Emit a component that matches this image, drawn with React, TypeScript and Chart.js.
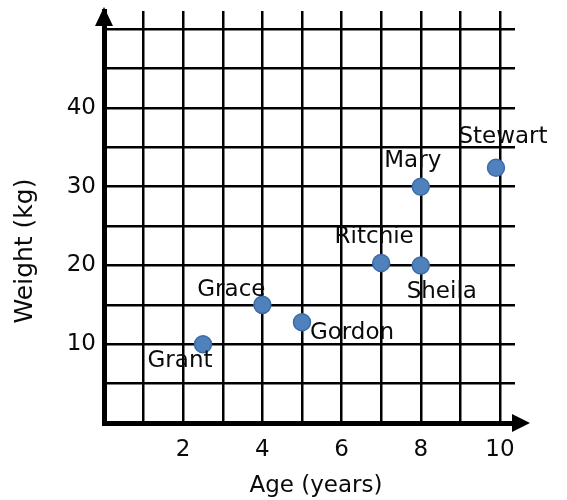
import React, { useEffect, useRef } from 'react';
import { Chart, registerables } from 'chart.js';

Chart.register(...registerables);

const NAMES = ['Grant', 'Grace', 'Gordon', 'Ritchie', 'Sheila', 'Mary', 'Stewart'];
const AGES = [2.5, 4, 5, 7, 8, 8, 9.9];
const WEIGHTS = [10, 15, 12.8, 20.3, 20, 30, 32.4];
const X_TICK_LABELS = [2, 4, 6, 8, 10];
const Y_TICK_LABELS = [10, 20, 30, 40];
const X_TITLE = 'Age (years)';
const Y_TITLE = 'Weight (kg)';

// label placement relative to each point (pixels)
const LABEL_OFFSETS: [number, number][] = [
  [-23, 17],
  [-31, -15],
  [50, 11],
  [-7, -26],
  [21, 27],
  [-8, -26],
  [7, -31],
];

const FONT = '"DejaVu Sans", sans-serif';

const near = (v: number, step: number) => Math.abs(v / step - Math.round(v / step)) < 1e-6;

const labelPlugin = {
  id: 'pointNames',
  afterDatasetsDraw(chart: any) {
    const { ctx } = chart;
    const meta = chart.getDatasetMeta(0);
    ctx.save();
    ctx.font = `23px ${FONT}`;
    ctx.fillStyle = '#0a0a0a';
    ctx.textAlign = 'center';
    ctx.textBaseline = 'middle';
    meta.data.forEach((el: any, i: number) => {
      const [dx, dy] = LABEL_OFFSETS[i];
      ctx.fillText(NAMES[i], el.x + dx, el.y + dy);
    });
    ctx.restore();
  },
};

const decorPlugin = {
  id: 'decor',
  afterDraw(chart: any) {
    const { ctx, chartArea } = chart;
    const { left, right, top, bottom } = chartArea;
    ctx.save();
    ctx.fillStyle = '#000';
    ctx.strokeStyle = '#000';
    // y arrow
    ctx.beginPath();
    ctx.moveTo(left, top - 4);
    ctx.lineTo(left - 9, top + 15);
    ctx.lineTo(left + 9, top + 15);
    ctx.closePath();
    ctx.fill();
    // x axis extension + arrow
    ctx.lineWidth = 5;
    ctx.beginPath();
    ctx.moveTo(right - 2, bottom);
    ctx.lineTo(right + 2, bottom);
    ctx.stroke();
    ctx.beginPath();
    ctx.moveTo(right + 15, bottom);
    ctx.lineTo(right - 3, bottom - 9);
    ctx.lineTo(right - 3, bottom + 9);
    ctx.closePath();
    ctx.fill();
    // titles
    ctx.fillStyle = '#0a0a0a';
    ctx.textAlign = 'center';
    ctx.textBaseline = 'middle';
    ctx.font = `23px ${FONT}`;
    ctx.fillText(X_TITLE, left + 212, bottom + 63);
    ctx.font = `25px ${FONT}`;
    ctx.translate(left - 79, bottom - 172);
    ctx.rotate(-Math.PI / 2);
    ctx.fillText(Y_TITLE, 0, 0);
    ctx.restore();
  },
};

export default function App() {
  const ref = useRef<HTMLCanvasElement | null>(null);

  useEffect(() => {
    if (!ref.current) return;
    const chart = new Chart(ref.current, {
      type: 'scatter',
      data: {
        datasets: [
          {
            label: 'Children',
            data: AGES.map((a, i) => ({ x: a, y: WEIGHTS[i] })),
            backgroundColor: '#4f81bd',
            borderColor: '#3d6ca5',
            borderWidth: 1.5,
            pointRadius: 8.5,
            pointHoverRadius: 8.5,
          },
        ],
      },
      options: {
        responsive: false,
        animation: false,
        events: [],
        layout: { padding: { top: 11, right: 52, left: 0, bottom: 0 } },
        plugins: {
          legend: { display: false },
          tooltip: { enabled: false },
        },
        scales: {
          x: {
            type: 'linear',
            min: 0,
            max: 10.38,
            afterBuildTicks: (axis: any) => {
              axis.ticks = axis.ticks.filter((t: any) => near(t.value, 1));
            },
            afterFit: (scale: any) => {
              scale.height = 77;
              scale.paddingLeft = 0;
              scale.paddingRight = 0;
            },
            ticks: {
              stepSize: 1,
              includeBounds: false,
              autoSkip: false,
              maxRotation: 0,
              padding: 13,
              color: '#0a0a0a',
              font: { family: FONT, size: 23 },
              callback: (v: any) => (X_TICK_LABELS.includes(Number(v)) ? String(v) : ''),
            },
            grid: { color: '#000', lineWidth: 2.5, drawTicks: false },
            border: { display: true, color: '#000', width: 5 },
          },
          y: {
            type: 'linear',
            min: 0,
            max: 52.3,
            afterBuildTicks: (axis: any) => {
              axis.ticks = axis.ticks.filter((t: any) => near(t.value, 5));
            },
            afterFit: (scale: any) => {
              scale.width = 104;
              scale.paddingTop = 0;
              scale.paddingBottom = 0;
            },
            ticks: {
              stepSize: 5,
              includeBounds: false,
              autoSkip: false,
              padding: 8,
              color: '#0a0a0a',
              font: { family: FONT, size: 23 },
              callback: (v: any) => (Y_TICK_LABELS.includes(Number(v)) ? String(v) : ''),
            },
            grid: { color: '#000', lineWidth: 2.5, drawTicks: false },
            border: { display: true, color: '#000', width: 5 },
          },
        },
      },
      plugins: [labelPlugin, decorPlugin],
    });
    return () => chart.destroy();
  }, []);

  return (
    <div style={{ position: 'absolute', left: 0, top: 0, width: 567, height: 500, background: '#fff' }}>
      <canvas ref={ref} width={567} height={500} />
    </div>
  );
}
